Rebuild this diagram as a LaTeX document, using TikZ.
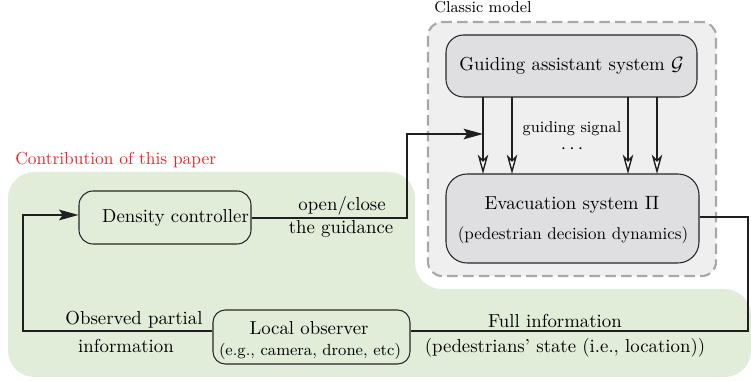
\documentclass[tikz,border=0pt]{standalone}
\usetikzlibrary{arrows.meta}
\definecolor{greenbg}{HTML}{E2EDD9}
\definecolor{graybg}{HTML}{EFEFEF}
\definecolor{grayline}{HTML}{A8A8A8}
\definecolor{boxgray}{HTML}{DFDFE1}
\definecolor{redtxt}{HTML}{F0242A}
\newcommand{\mainsz}{\fontsize{10.7}{13}\selectfont}
\begin{document}
\begin{tikzpicture}[x=0.02cm,y=-0.02cm,font=\mainsz,
  blk/.style={draw=black!85,line width=0.6pt,rounded corners=8pt,inner sep=0pt},
  conn/.style={draw=black!88,line width=1.1pt},
  fat/.style={-{Stealth[length=11pt,width=6pt,inset=2pt]}},
  opn/.style={-{Stealth[open,length=11pt,width=6pt,inset=3pt,fill=white,line width=0.8pt]}}]
\useasboundingbox (0,0) rectangle (751,381);
% green region
\fill[greenbg,rounded corners=15] (8,172) -- (415,172) -- (415,289) -- (751,289) -- (751,377) -- (8,377) -- cycle;
% classic model box
\draw[grayline,fill=graybg,dashed,dash pattern=on 6pt off 3pt,line width=1.2pt,rounded corners=8pt] (428,22) rectangle (716,276);
\node[anchor=west,font=\fontsize{9}{11}\selectfont,inner sep=0pt] (cm) at (434,7) {Classic model};
\node[anchor=west,font=\fontsize{9.9}{12}\selectfont,text=redtxt,inner sep=0pt] (cp) at (15,160) {Contribution of this paper};
% nodes
\node[blk,fill=boxgray,minimum width=251*0.02cm,minimum height=62*0.02cm,rounded corners=10pt] (G) at (571.5,66) {Guiding assistant system $\mathcal{G}$};
\node[blk,fill=boxgray,minimum width=253*0.02cm,minimum height=89*0.02cm,rounded corners=12pt] (E) at (572.5,218.5) {};
\node[inner sep=0pt] (Et) at (572,205) {Evacuation system $\Pi$};
\node[inner sep=0pt,font=\fontsize{9.7}{12}\selectfont] (Eb) at (573,235) {(pedestrian decision dynamics)};
\node[blk,minimum width=172*0.02cm,minimum height=53*0.02cm] (D) at (165,217.5) {\hspace*{12pt}Density controller};
\node[blk,minimum width=197*0.02cm,minimum height=54*0.02cm,rounded corners=7pt] (L) at (311.5,337) {};
\node[inner sep=0pt] (Lt) at (309,328) {Local observer};
\node[inner sep=0pt,font=\fontsize{9.2}{11}\selectfont] (Lb) at (310,351) {(e.g., camera, drone, etc)};
% vertical guiding arrows
\foreach \xx/\nm in {483/a,512/b,628/c,657/d}{
  \coordinate (t\nm) at (\xx,97);
  \coordinate (b\nm) at (\xx,174);
  \draw[conn,opn] (t\nm) -- (b\nm);
}
\node[font=\fontsize{9}{11}\selectfont,inner sep=0pt] (gs) at (572,129) {guiding signal};
\node[inner sep=0pt] (dots) at (572,149) {$\cdots$};
% density controller to guidance
\coordinate (c1) at (407,218);
\coordinate (c2) at (407,134);
\coordinate (c3) at (483,134);
\draw[conn,fat] (D.east |- c1) -- (c1) -- (c2) -- (c3);
\node[inner sep=0pt] (oc) at (342,206) {open/close};
\node[inner sep=0pt] (tg) at (341,229) {the guidance};
% evacuation to local observer
\coordinate (r1) at (748,217);
\coordinate (r2) at (748,331);
\draw[conn] (E.east |- r1) -- (r1) -- (r2) -- (L.east |- r2);
\node[inner sep=0pt] (fi) at (555,321) {Full information};
\node[inner sep=0pt] (ps) at (565,348) {(pedestrians' state (i.e., location))};
% local observer to density controller
\coordinate (l1) at (23,331);
\coordinate (l2) at (23,215);
\draw[conn,fat] (L.west |- l1) -- (l1) -- (l2) -- (D.west |- l2);
\node[inner sep=0pt] (op) at (134,320) {Observed partial};
\node[inner sep=0pt] (inf) at (126,346) {information};
\end{tikzpicture}
\end{document}
